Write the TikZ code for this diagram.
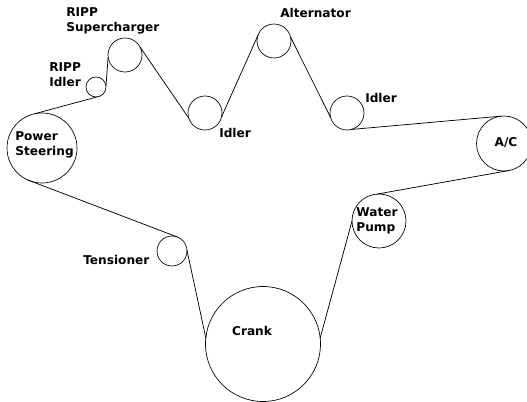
\documentclass[tikz,border=0pt]{standalone}
\usepackage{fontspec}
\setmainfont{DejaVu Sans}
\usepackage{tikz}
\tikzset{
    pulley/.style={circle,draw,inner sep=0pt,outer sep=0pt,line width=0.5pt},
    belt/.style={line width=0.55pt},
    lbl/.style={font=\bfseries\fontsize{9.1}{11.4}\selectfont,inner sep=0pt,align=left}
}

\begin{document}
\begin{tikzpicture}[x=0.75pt,y=-0.75pt]
            \useasboundingbox (0,0) rectangle (527,402);
            \node[pulley,minimum size=52.5pt] (steering) at (42,148) {};
            \node[pulley,minimum size=25.5pt] (super) at (125,55) {};
            \node[pulley,minimum size=15pt] (rippidler) at (96,87) {};
            \node[pulley,minimum size=25.5pt] (idlerA) at (205,113) {};
            \node[pulley,minimum size=25.5pt] (alt) at (274,41) {};
            \node[pulley,minimum size=25.5pt] (idlerB) at (347,113) {};
            \node[pulley,minimum size=41.25pt] (ac) at (504,143.5) {};
            \node[pulley,minimum size=40.5pt] (water) at (379,221) {};
            \node[pulley,minimum size=22.5pt] (tens) at (172,251) {};
            \node[pulley,minimum size=86.25pt] (crank) at (263,344) {};

            \draw[belt] (steering.103) -- (rippidler.-85);
            \draw[belt] (rippidler.5) -- (super.187);
            \draw[belt] (super.28) -- (idlerA.198);
            \draw[belt] (idlerA.-13) -- (alt.160);
            \draw[belt] (alt.13) -- (idlerB.195);
            \draw[belt] (idlerB.-76) -- (ac.96);
            \draw[belt] (ac.-80) -- (water.94);
            \draw[belt] (water.180) -- (crank.6);
            \draw[belt] (crank.174) -- (tens.3);
            \draw[belt] (tens.70) -- (steering.246);

            \node[lbl,anchor=west] (lblsteer) at (15,145) {Power\\Steering};
            \node[lbl,anchor=west] (lblsuper) at (66,21) {RIPP\\Supercharger};
            \node[lbl,anchor=west] (lblripp) at (49,75) {RIPP\\Idler};
            \node[lbl,anchor=west] (lblidlerA) at (219,133) {Idler};
            \node[lbl,anchor=west] (lblalt) at (280,13) {Alternator};
            \node[lbl,anchor=west] (lblidlerB) at (365,98) {Idler};
            \node[lbl,anchor=center] (lblac) at (506,143) {A/C};
            \node[lbl,anchor=center] (lblwater) at (377,221) {Water\\Pump};
            \node[lbl,anchor=west] (lbltens) at (83,260) {Tensioner};
            \node[lbl,anchor=center] (lblcrank) at (252,331) {Crank};
        \end{tikzpicture}
\end{document}
